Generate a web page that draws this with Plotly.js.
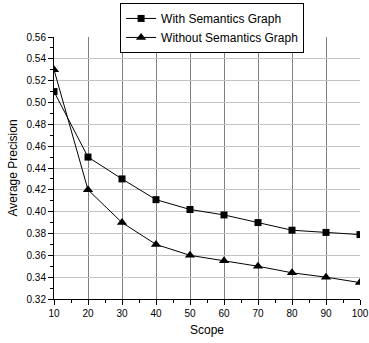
<!DOCTYPE html>
<html><head><meta charset="utf-8">
<script src="https://cdn.plot.ly/plotly-3.0.1.min.js"></script>
<style>body{margin:0;background:#fff}#c{width:369px;height:343px}</style>
</head><body><div id="c"></div>
<script>
var scope = [10,20,30,40,50,60,70,80,90,100];
var withGraph = [0.51,0.45,0.43,0.411,0.402,0.397,0.39,0.383,0.381,0.379];
var withoutGraph = [0.53,0.42,0.39,0.37,0.36,0.355,0.35,0.344,0.34,0.335];
var xTicks = [10,20,30,40,50,60,70,80,90,100];
var yTicks = [0.32,0.34,0.36,0.38,0.40,0.42,0.44,0.46,0.48,0.50,0.52,0.54,0.56];
var xGrid = [20,30,40,50,60,70,80,90];
var yGrid = [0.34,0.36,0.38,0.40,0.42,0.44,0.46,0.48,0.50,0.52,0.54];

var F = 'Liberation Sans, Arial, sans-serif';
var traces = [
  {x: scope, y: withGraph, name: 'With Semantics Graph', mode: 'lines+markers',
   line: {color: '#000', width: 1}, marker: {symbol: 'square', size: 7, color: '#000'}},
  {x: scope, y: withoutGraph, name: 'Without Semantics Graph', mode: 'lines+markers',
   line: {color: '#000', width: 1}, marker: {symbol: 'triangle-up', size: 9, color: '#000'}},
  {x: [], y: [], xaxis: 'x2', yaxis: 'y2', showlegend: false, hoverinfo: 'skip'}
];
var layout = {
  width: 369, height: 343,
  margin: {l: 54, r: 9, t: 37, b: 44, autoexpand: false},
  paper_bgcolor: '#fff', plot_bgcolor: '#fff',
  font: {family: F, color: '#000', size: 10},
  showlegend: true,
  legend: {x: 0.216, y: 1.13, xanchor: 'left', yanchor: 'top', bordercolor: '#000', borderwidth: 1,
           bgcolor: '#fff', font: {size: 12, family: F}, tracegroupgap: 0, itemwidth: 30},
  xaxis: {range: [10, 100], tickvals: xGrid, showticklabels: false, ticks: '', showgrid: true,
          gridcolor: '#808080', gridwidth: 1, zeroline: false, showline: false},
  yaxis: {range: [0.32, 0.56], tickvals: yGrid, showticklabels: false, ticks: '', showgrid: true,
          gridcolor: '#c4c4c4', gridwidth: 1, zeroline: false, showline: false},
  xaxis2: {overlaying: 'x', range: [10, 100], tickvals: xTicks, ticktext: xTicks.map(String),
           ticks: 'outside', ticklen: 5, tickcolor: '#000', showgrid: false, zeroline: false,
           showline: true, linecolor: '#000', linewidth: 1, side: 'bottom', anchor: 'y2',
           minor: {dtick: 5, tick0: 5, ticks: 'outside', ticklen: 3, tickcolor: '#000', showgrid: false},
           tickfont: {size: 10, family: F}, title: {text: 'Scope', font: {size: 12, family: F}, standoff: 7}},
  yaxis2: {overlaying: 'y', range: [0.32, 0.56], tickvals: yTicks, ticktext: yTicks.map(function(v){return v.toFixed(2);}),
           ticks: 'outside', ticklen: 5, tickcolor: '#000', showgrid: false, zeroline: false,
           showline: true, linecolor: '#000', linewidth: 1, side: 'left', anchor: 'x2',
           minor: {dtick: 0.01, tick0: 0.01, ticks: 'outside', ticklen: 3, tickcolor: '#000', showgrid: false},
           tickfont: {size: 10, family: F}, title: {text: 'Average Precision', font: {size: 12, family: F}, standoff: 6}}
};
Plotly.newPlot('c', traces, layout, {displayModeBar: false, staticPlot: true});
</script></body></html>
